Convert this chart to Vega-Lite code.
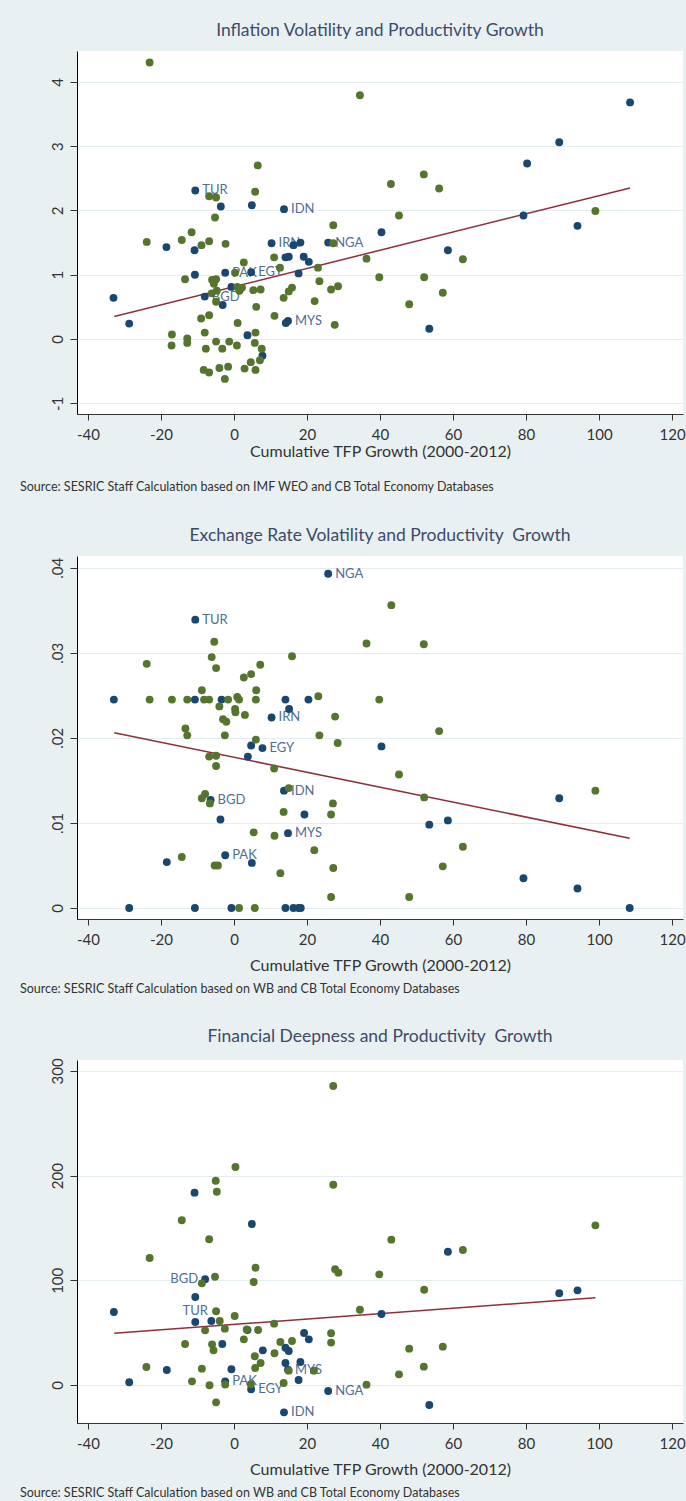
{
"$schema": "https://vega.github.io/schema/vega-lite/v6.json",
"background": "#E9F0F2",
"padding": {"left": 20, "top": 21, "right": 3, "bottom": 4},
"spacing": 32,
"config": {
  "view": {"stroke": null, "fill": "white"},
  "axis": {"labelFont": "Lato", "titleFont": "Lato", "labelColor": "#333333", "titleColor": "#333333", "titleFontWeight": "normal", "domainColor": "#333333", "tickColor": "#333333", "labelFlush": false, "labelOverlap": false},
  "axisX": {"tickSize": 6, "labelPadding": 7, "labelFontSize": 15, "titleFontSize": 16, "grid": false},
  "axisY": {"tickSize": 7, "labelPadding": 5, "labelFontSize": 15, "labelAngle": 270, "labelAlign": "center", "labelBaseline": "bottom", "grid": true, "gridColor": "#E3ECEF", "domainColor": "#000000"},
  "title": {"font": "Lato", "fontSize": 17.5, "fontWeight": "normal", "color": "#3D4B6B", "offset": 12}
},
"datasets": {
  "fit1": [{"tfp": -32.8, "val": 0.35}, {"tfp": 108.5, "val": 2.35}],
  "fit2": [{"tfp": -32.8, "val": 0.0206}, {"tfp": 108.4, "val": 0.0082}],
  "fit3": [{"tfp": -32.8, "val": 49.4}, {"tfp": 99.0, "val": 83.4}],
  "p1": [
    {"tfp": -10.6, "val": 2.31, "grp": "OIC", "code": "TUR"},
    {"tfp": -3.6, "val": 2.06, "grp": "OIC"},
    {"tfp": 4.9, "val": 2.08, "grp": "OIC"},
    {"tfp": 13.7, "val": 2.02, "grp": "OIC", "code": "IDN"},
    {"tfp": -18.5, "val": 1.43, "grp": "OIC"},
    {"tfp": -10.8, "val": 1.38, "grp": "OIC"},
    {"tfp": 10.3, "val": 1.49, "grp": "OIC", "code": "IRN"},
    {"tfp": 16.3, "val": 1.46, "grp": "OIC"},
    {"tfp": 18.2, "val": 1.50, "grp": "OIC"},
    {"tfp": 25.8, "val": 1.50, "grp": "OIC", "code": "NGA"},
    {"tfp": 108.5, "val": 3.68, "grp": "OIC"},
    {"tfp": 89.1, "val": 3.06, "grp": "OIC"},
    {"tfp": 80.3, "val": 2.73, "grp": "OIC"},
    {"tfp": 79.3, "val": 1.92, "grp": "OIC"},
    {"tfp": 94.1, "val": 1.76, "grp": "OIC"},
    {"tfp": 40.4, "val": 1.66, "grp": "OIC"},
    {"tfp": 58.6, "val": 1.38, "grp": "OIC"},
    {"tfp": -33.0, "val": 0.64, "grp": "OIC"},
    {"tfp": -28.7, "val": 0.24, "grp": "OIC"},
    {"tfp": -10.7, "val": 1.00, "grp": "OIC"},
    {"tfp": -2.4, "val": 1.03, "grp": "OIC", "code": "PAK"},
    {"tfp": 4.7, "val": 1.04, "grp": "OIC", "code": "EGY"},
    {"tfp": -0.7, "val": 0.81, "grp": "OIC"},
    {"tfp": -8.0, "val": 0.66, "grp": "OIC", "code": "BGD"},
    {"tfp": -3.1, "val": 0.53, "grp": "OIC"},
    {"tfp": 14.1, "val": 1.27, "grp": "OIC"},
    {"tfp": 15.0, "val": 1.28, "grp": "OIC"},
    {"tfp": 19.1, "val": 1.28, "grp": "OIC"},
    {"tfp": 20.5, "val": 1.20, "grp": "OIC"},
    {"tfp": 17.7, "val": 1.02, "grp": "OIC"},
    {"tfp": 14.2, "val": 0.25, "grp": "OIC"},
    {"tfp": 14.8, "val": 0.28, "grp": "OIC", "code": "MYS"},
    {"tfp": 3.7, "val": 0.06, "grp": "OIC"},
    {"tfp": 7.8, "val": -0.26, "grp": "OIC"},
    {"tfp": 53.5, "val": 0.16, "grp": "OIC"},
    {"tfp": -23.1, "val": 4.30, "grp": "Non-OIC"},
    {"tfp": -6.8, "val": 2.22, "grp": "Non-OIC"},
    {"tfp": -4.9, "val": 2.20, "grp": "Non-OIC"},
    {"tfp": -5.2, "val": 1.89, "grp": "Non-OIC"},
    {"tfp": 6.5, "val": 2.70, "grp": "Non-OIC"},
    {"tfp": 5.8, "val": 2.29, "grp": "Non-OIC"},
    {"tfp": 27.2, "val": 1.77, "grp": "Non-OIC"},
    {"tfp": -23.9, "val": 1.51, "grp": "Non-OIC"},
    {"tfp": -14.3, "val": 1.54, "grp": "Non-OIC"},
    {"tfp": -11.6, "val": 1.66, "grp": "Non-OIC"},
    {"tfp": -8.9, "val": 1.46, "grp": "Non-OIC"},
    {"tfp": -6.8, "val": 1.52, "grp": "Non-OIC"},
    {"tfp": -2.3, "val": 1.48, "grp": "Non-OIC"},
    {"tfp": 27.2, "val": 1.49, "grp": "Non-OIC"},
    {"tfp": 34.5, "val": 3.79, "grp": "Non-OIC"},
    {"tfp": 52.0, "val": 2.56, "grp": "Non-OIC"},
    {"tfp": 43.0, "val": 2.41, "grp": "Non-OIC"},
    {"tfp": 56.2, "val": 2.34, "grp": "Non-OIC"},
    {"tfp": 99.0, "val": 1.99, "grp": "Non-OIC"},
    {"tfp": 45.2, "val": 1.92, "grp": "Non-OIC"},
    {"tfp": -13.4, "val": 0.93, "grp": "Non-OIC"},
    {"tfp": 0.3, "val": 1.03, "grp": "Non-OIC"},
    {"tfp": 2.7, "val": 1.19, "grp": "Non-OIC"},
    {"tfp": -6.0, "val": 0.92, "grp": "Non-OIC"},
    {"tfp": -4.9, "val": 0.93, "grp": "Non-OIC"},
    {"tfp": -5.5, "val": 0.86, "grp": "Non-OIC"},
    {"tfp": 0.9, "val": 0.81, "grp": "Non-OIC"},
    {"tfp": 1.5, "val": 0.75, "grp": "Non-OIC"},
    {"tfp": 2.2, "val": 0.80, "grp": "Non-OIC"},
    {"tfp": -6.1, "val": 0.71, "grp": "Non-OIC"},
    {"tfp": -4.7, "val": 0.75, "grp": "Non-OIC"},
    {"tfp": -4.9, "val": 0.58, "grp": "Non-OIC"},
    {"tfp": 5.3, "val": 0.76, "grp": "Non-OIC"},
    {"tfp": 7.3, "val": 0.77, "grp": "Non-OIC"},
    {"tfp": 6.1, "val": 0.50, "grp": "Non-OIC"},
    {"tfp": -9.0, "val": 0.32, "grp": "Non-OIC"},
    {"tfp": -6.8, "val": 0.37, "grp": "Non-OIC"},
    {"tfp": 1.0, "val": 0.25, "grp": "Non-OIC"},
    {"tfp": 11.0, "val": 1.27, "grp": "Non-OIC"},
    {"tfp": 12.6, "val": 1.11, "grp": "Non-OIC"},
    {"tfp": 23.0, "val": 1.11, "grp": "Non-OIC"},
    {"tfp": 23.4, "val": 0.90, "grp": "Non-OIC"},
    {"tfp": 15.9, "val": 0.80, "grp": "Non-OIC"},
    {"tfp": 15.0, "val": 0.74, "grp": "Non-OIC"},
    {"tfp": 13.6, "val": 0.64, "grp": "Non-OIC"},
    {"tfp": 22.1, "val": 0.59, "grp": "Non-OIC"},
    {"tfp": 26.6, "val": 0.77, "grp": "Non-OIC"},
    {"tfp": 28.5, "val": 0.82, "grp": "Non-OIC"},
    {"tfp": 11.1, "val": 0.36, "grp": "Non-OIC"},
    {"tfp": 27.6, "val": 0.22, "grp": "Non-OIC"},
    {"tfp": -17.0, "val": 0.07, "grp": "Non-OIC"},
    {"tfp": -17.1, "val": -0.10, "grp": "Non-OIC"},
    {"tfp": -12.8, "val": 0.01, "grp": "Non-OIC"},
    {"tfp": -12.8, "val": -0.06, "grp": "Non-OIC"},
    {"tfp": -8.0, "val": 0.10, "grp": "Non-OIC"},
    {"tfp": -7.7, "val": -0.15, "grp": "Non-OIC"},
    {"tfp": -4.9, "val": -0.04, "grp": "Non-OIC"},
    {"tfp": -3.2, "val": -0.15, "grp": "Non-OIC"},
    {"tfp": -1.3, "val": -0.04, "grp": "Non-OIC"},
    {"tfp": 0.8, "val": -0.10, "grp": "Non-OIC"},
    {"tfp": 5.9, "val": 0.10, "grp": "Non-OIC"},
    {"tfp": 5.7, "val": -0.06, "grp": "Non-OIC"},
    {"tfp": 7.6, "val": -0.15, "grp": "Non-OIC"},
    {"tfp": 7.1, "val": -0.33, "grp": "Non-OIC"},
    {"tfp": 4.6, "val": -0.36, "grp": "Non-OIC"},
    {"tfp": 2.9, "val": -0.46, "grp": "Non-OIC"},
    {"tfp": 5.9, "val": -0.48, "grp": "Non-OIC"},
    {"tfp": -8.3, "val": -0.48, "grp": "Non-OIC"},
    {"tfp": -6.8, "val": -0.52, "grp": "Non-OIC"},
    {"tfp": -4.0, "val": -0.45, "grp": "Non-OIC"},
    {"tfp": -1.6, "val": -0.43, "grp": "Non-OIC"},
    {"tfp": -2.5, "val": -0.62, "grp": "Non-OIC"},
    {"tfp": 36.3, "val": 1.25, "grp": "Non-OIC"},
    {"tfp": 62.7, "val": 1.24, "grp": "Non-OIC"},
    {"tfp": 39.8, "val": 0.96, "grp": "Non-OIC"},
    {"tfp": 52.1, "val": 0.96, "grp": "Non-OIC"},
    {"tfp": 57.2, "val": 0.72, "grp": "Non-OIC"},
    {"tfp": 48.0, "val": 0.54, "grp": "Non-OIC"}
  ],
  "p2": [
    {"tfp": 25.8, "val": 0.0393, "grp": "OIC", "code": "NGA"},
    {"tfp": -10.6, "val": 0.0339, "grp": "OIC", "code": "TUR"},
    {"tfp": -32.9, "val": 0.0245, "grp": "OIC"},
    {"tfp": -10.7, "val": 0.0245, "grp": "OIC"},
    {"tfp": -3.4, "val": 0.0245, "grp": "OIC"},
    {"tfp": 14.1, "val": 0.0245, "grp": "OIC"},
    {"tfp": 20.4, "val": 0.0245, "grp": "OIC"},
    {"tfp": 15.1, "val": 0.0234, "grp": "OIC"},
    {"tfp": 10.3, "val": 0.0224, "grp": "OIC", "code": "IRN"},
    {"tfp": 4.7, "val": 0.0191, "grp": "OIC"},
    {"tfp": 7.8, "val": 0.0188, "grp": "OIC", "code": "EGY"},
    {"tfp": 40.4, "val": 0.0190, "grp": "OIC"},
    {"tfp": 3.8, "val": 0.0178, "grp": "OIC"},
    {"tfp": 13.7, "val": 0.0138, "grp": "OIC", "code": "IDN"},
    {"tfp": -6.4, "val": 0.0127, "grp": "OIC", "code": "BGD"},
    {"tfp": 19.3, "val": 0.0110, "grp": "OIC"},
    {"tfp": -3.7, "val": 0.0104, "grp": "OIC"},
    {"tfp": 14.8, "val": 0.0088, "grp": "OIC", "code": "MYS"},
    {"tfp": -2.4, "val": 0.0062, "grp": "OIC", "code": "PAK"},
    {"tfp": -18.4, "val": 0.0054, "grp": "OIC"},
    {"tfp": 4.9, "val": 0.0053, "grp": "OIC"},
    {"tfp": -28.7, "val": 0.0, "grp": "OIC"},
    {"tfp": -10.7, "val": 0.0, "grp": "OIC"},
    {"tfp": -0.7, "val": 0.0, "grp": "OIC"},
    {"tfp": 14.1, "val": 0.0, "grp": "OIC"},
    {"tfp": 16.3, "val": 0.0, "grp": "OIC"},
    {"tfp": 17.7, "val": 0.0, "grp": "OIC"},
    {"tfp": 18.3, "val": 0.0, "grp": "OIC"},
    {"tfp": 53.5, "val": 0.0098, "grp": "OIC"},
    {"tfp": 58.6, "val": 0.0103, "grp": "OIC"},
    {"tfp": 79.3, "val": 0.0035, "grp": "OIC"},
    {"tfp": 94.1, "val": 0.0023, "grp": "OIC"},
    {"tfp": 108.4, "val": 0.0, "grp": "OIC"},
    {"tfp": 89.1, "val": 0.0129, "grp": "OIC"},
    {"tfp": -5.4, "val": 0.0313, "grp": "Non-OIC"},
    {"tfp": -6.1, "val": 0.0295, "grp": "Non-OIC"},
    {"tfp": -4.9, "val": 0.0282, "grp": "Non-OIC"},
    {"tfp": -23.9, "val": 0.0287, "grp": "Non-OIC"},
    {"tfp": 15.9, "val": 0.0296, "grp": "Non-OIC"},
    {"tfp": 7.2, "val": 0.0286, "grp": "Non-OIC"},
    {"tfp": 4.7, "val": 0.0275, "grp": "Non-OIC"},
    {"tfp": 2.7, "val": 0.0271, "grp": "Non-OIC"},
    {"tfp": 6.1, "val": 0.0256, "grp": "Non-OIC"},
    {"tfp": -8.8, "val": 0.0256, "grp": "Non-OIC"},
    {"tfp": -23.1, "val": 0.0245, "grp": "Non-OIC"},
    {"tfp": -17.0, "val": 0.0245, "grp": "Non-OIC"},
    {"tfp": -12.8, "val": 0.0245, "grp": "Non-OIC"},
    {"tfp": -8.2, "val": 0.0245, "grp": "Non-OIC"},
    {"tfp": -6.8, "val": 0.0245, "grp": "Non-OIC"},
    {"tfp": -1.6, "val": 0.0245, "grp": "Non-OIC"},
    {"tfp": 0.9, "val": 0.0248, "grp": "Non-OIC"},
    {"tfp": 1.4, "val": 0.0245, "grp": "Non-OIC"},
    {"tfp": 6.0, "val": 0.0245, "grp": "Non-OIC"},
    {"tfp": 23.1, "val": 0.0249, "grp": "Non-OIC"},
    {"tfp": -4.0, "val": 0.0237, "grp": "Non-OIC"},
    {"tfp": 0.3, "val": 0.0234, "grp": "Non-OIC"},
    {"tfp": 0.4, "val": 0.0230, "grp": "Non-OIC"},
    {"tfp": 3.0, "val": 0.0227, "grp": "Non-OIC"},
    {"tfp": -3.0, "val": 0.0222, "grp": "Non-OIC"},
    {"tfp": -2.1, "val": 0.0219, "grp": "Non-OIC"},
    {"tfp": 27.7, "val": 0.0225, "grp": "Non-OIC"},
    {"tfp": -13.3, "val": 0.0211, "grp": "Non-OIC"},
    {"tfp": -12.8, "val": 0.0203, "grp": "Non-OIC"},
    {"tfp": -2.5, "val": 0.0203, "grp": "Non-OIC"},
    {"tfp": 23.4, "val": 0.0203, "grp": "Non-OIC"},
    {"tfp": 6.0, "val": 0.0198, "grp": "Non-OIC"},
    {"tfp": 28.4, "val": 0.0194, "grp": "Non-OIC"},
    {"tfp": 43.1, "val": 0.0356, "grp": "Non-OIC"},
    {"tfp": 36.3, "val": 0.0311, "grp": "Non-OIC"},
    {"tfp": 52.0, "val": 0.0310, "grp": "Non-OIC"},
    {"tfp": 39.8, "val": 0.0245, "grp": "Non-OIC"},
    {"tfp": 56.2, "val": 0.0208, "grp": "Non-OIC"},
    {"tfp": -6.8, "val": 0.0178, "grp": "Non-OIC"},
    {"tfp": -4.9, "val": 0.0179, "grp": "Non-OIC"},
    {"tfp": -4.9, "val": 0.0167, "grp": "Non-OIC"},
    {"tfp": 11.0, "val": 0.0164, "grp": "Non-OIC"},
    {"tfp": 15.0, "val": 0.0141, "grp": "Non-OIC"},
    {"tfp": -8.8, "val": 0.0129, "grp": "Non-OIC"},
    {"tfp": -7.9, "val": 0.0134, "grp": "Non-OIC"},
    {"tfp": -6.6, "val": 0.0123, "grp": "Non-OIC"},
    {"tfp": 27.1, "val": 0.0123, "grp": "Non-OIC"},
    {"tfp": 13.6, "val": 0.0113, "grp": "Non-OIC"},
    {"tfp": 26.6, "val": 0.0110, "grp": "Non-OIC"},
    {"tfp": 5.4, "val": 0.0089, "grp": "Non-OIC"},
    {"tfp": 11.1, "val": 0.0085, "grp": "Non-OIC"},
    {"tfp": 22.0, "val": 0.0068, "grp": "Non-OIC"},
    {"tfp": -14.3, "val": 0.0060, "grp": "Non-OIC"},
    {"tfp": -5.3, "val": 0.0050, "grp": "Non-OIC"},
    {"tfp": -4.4, "val": 0.0050, "grp": "Non-OIC"},
    {"tfp": 27.2, "val": 0.0047, "grp": "Non-OIC"},
    {"tfp": 12.7, "val": 0.0041, "grp": "Non-OIC"},
    {"tfp": 26.6, "val": 0.0013, "grp": "Non-OIC"},
    {"tfp": 1.4, "val": 0.0, "grp": "Non-OIC"},
    {"tfp": 5.7, "val": 0.0, "grp": "Non-OIC"},
    {"tfp": 45.2, "val": 0.0157, "grp": "Non-OIC"},
    {"tfp": 52.1, "val": 0.0130, "grp": "Non-OIC"},
    {"tfp": 62.7, "val": 0.0072, "grp": "Non-OIC"},
    {"tfp": 57.2, "val": 0.0049, "grp": "Non-OIC"},
    {"tfp": 48.0, "val": 0.0013, "grp": "Non-OIC"},
    {"tfp": 99.0, "val": 0.0138, "grp": "Non-OIC"}
  ],
  "p3": [
    {"tfp": -10.8, "val": 183.7, "grp": "OIC"},
    {"tfp": 4.9, "val": 153.8, "grp": "OIC"},
    {"tfp": 58.6, "val": 127.3, "grp": "OIC"},
    {"tfp": -7.9, "val": 101.0, "grp": "OIC", "code": "BGD"},
    {"tfp": -10.6, "val": 84.0, "grp": "OIC", "code": "TUR"},
    {"tfp": -32.9, "val": 69.7, "grp": "OIC"},
    {"tfp": -10.6, "val": 60.2, "grp": "OIC"},
    {"tfp": -6.2, "val": 61.1, "grp": "OIC"},
    {"tfp": 3.7, "val": 52.5, "grp": "OIC"},
    {"tfp": -3.2, "val": 39.2, "grp": "OIC"},
    {"tfp": 19.2, "val": 49.7, "grp": "OIC"},
    {"tfp": 20.5, "val": 43.6, "grp": "OIC"},
    {"tfp": 14.1, "val": 35.6, "grp": "OIC"},
    {"tfp": 15.0, "val": 32.5, "grp": "OIC"},
    {"tfp": 7.9, "val": 33.1, "grp": "OIC"},
    {"tfp": 14.1, "val": 21.0, "grp": "OIC"},
    {"tfp": 18.2, "val": 22.0, "grp": "OIC"},
    {"tfp": 14.8, "val": 14.5, "grp": "OIC", "code": "MYS"},
    {"tfp": 17.7, "val": 4.8, "grp": "OIC"},
    {"tfp": -18.4, "val": 14.3, "grp": "OIC"},
    {"tfp": -0.7, "val": 15.0, "grp": "OIC"},
    {"tfp": -28.7, "val": 2.6, "grp": "OIC"},
    {"tfp": -2.4, "val": 3.5, "grp": "OIC", "code": "PAK"},
    {"tfp": 4.7, "val": -4.1, "grp": "OIC", "code": "EGY"},
    {"tfp": 25.8, "val": -5.7, "grp": "OIC", "code": "NGA"},
    {"tfp": 13.7, "val": -26.1, "grp": "OIC", "code": "IDN"},
    {"tfp": 89.1, "val": 87.6, "grp": "OIC"},
    {"tfp": 94.1, "val": 90.4, "grp": "OIC"},
    {"tfp": 40.4, "val": 67.8, "grp": "OIC"},
    {"tfp": 53.5, "val": -19.1, "grp": "OIC"},
    {"tfp": 27.2, "val": 285.6, "grp": "Non-OIC"},
    {"tfp": 0.4, "val": 208.2, "grp": "Non-OIC"},
    {"tfp": -5.0, "val": 195.1, "grp": "Non-OIC"},
    {"tfp": -4.7, "val": 184.6, "grp": "Non-OIC"},
    {"tfp": 27.2, "val": 191.3, "grp": "Non-OIC"},
    {"tfp": -14.3, "val": 157.3, "grp": "Non-OIC"},
    {"tfp": -6.8, "val": 139.2, "grp": "Non-OIC"},
    {"tfp": -23.1, "val": 121.3, "grp": "Non-OIC"},
    {"tfp": 99.0, "val": 152.5, "grp": "Non-OIC"},
    {"tfp": 43.1, "val": 138.8, "grp": "Non-OIC"},
    {"tfp": 62.7, "val": 128.9, "grp": "Non-OIC"},
    {"tfp": 5.9, "val": 112.0, "grp": "Non-OIC"},
    {"tfp": 27.7, "val": 110.5, "grp": "Non-OIC"},
    {"tfp": 28.6, "val": 107.3, "grp": "Non-OIC"},
    {"tfp": -8.8, "val": 97.1, "grp": "Non-OIC"},
    {"tfp": -5.2, "val": 103.4, "grp": "Non-OIC"},
    {"tfp": 5.4, "val": 98.4, "grp": "Non-OIC"},
    {"tfp": -4.9, "val": 70.4, "grp": "Non-OIC"},
    {"tfp": 0.2, "val": 65.9, "grp": "Non-OIC"},
    {"tfp": -3.9, "val": 61.1, "grp": "Non-OIC"},
    {"tfp": -7.9, "val": 52.2, "grp": "Non-OIC"},
    {"tfp": -2.5, "val": 53.8, "grp": "Non-OIC"},
    {"tfp": 3.5, "val": 53.0, "grp": "Non-OIC"},
    {"tfp": 6.6, "val": 52.5, "grp": "Non-OIC"},
    {"tfp": 11.0, "val": 58.6, "grp": "Non-OIC"},
    {"tfp": 2.7, "val": 43.6, "grp": "Non-OIC"},
    {"tfp": -13.4, "val": 39.2, "grp": "Non-OIC"},
    {"tfp": -6.0, "val": 38.8, "grp": "Non-OIC"},
    {"tfp": -5.6, "val": 33.1, "grp": "Non-OIC"},
    {"tfp": 26.6, "val": 49.4, "grp": "Non-OIC"},
    {"tfp": 26.6, "val": 40.5, "grp": "Non-OIC"},
    {"tfp": 12.7, "val": 41.1, "grp": "Non-OIC"},
    {"tfp": 15.9, "val": 42.0, "grp": "Non-OIC"},
    {"tfp": 5.7, "val": 27.4, "grp": "Non-OIC"},
    {"tfp": 11.1, "val": 30.3, "grp": "Non-OIC"},
    {"tfp": 7.3, "val": 21.0, "grp": "Non-OIC"},
    {"tfp": 5.8, "val": 16.2, "grp": "Non-OIC"},
    {"tfp": 15.0, "val": 13.7, "grp": "Non-OIC"},
    {"tfp": 21.9, "val": 13.7, "grp": "Non-OIC"},
    {"tfp": -24.0, "val": 17.2, "grp": "Non-OIC"},
    {"tfp": -8.8, "val": 15.6, "grp": "Non-OIC"},
    {"tfp": -11.5, "val": 3.5, "grp": "Non-OIC"},
    {"tfp": -2.4, "val": 0.5, "grp": "Non-OIC"},
    {"tfp": -6.7, "val": -0.3, "grp": "Non-OIC"},
    {"tfp": 4.6, "val": 0.7, "grp": "Non-OIC"},
    {"tfp": 13.6, "val": 1.9, "grp": "Non-OIC"},
    {"tfp": -4.9, "val": -16.6, "grp": "Non-OIC"},
    {"tfp": 39.8, "val": 105.7, "grp": "Non-OIC"},
    {"tfp": 52.1, "val": 91.0, "grp": "Non-OIC"},
    {"tfp": 34.5, "val": 71.9, "grp": "Non-OIC"},
    {"tfp": 48.0, "val": 34.7, "grp": "Non-OIC"},
    {"tfp": 57.2, "val": 36.6, "grp": "Non-OIC"},
    {"tfp": 52.0, "val": 17.5, "grp": "Non-OIC"},
    {"tfp": 45.2, "val": 10.2, "grp": "Non-OIC"},
    {"tfp": 36.3, "val": 0.3, "grp": "Non-OIC"}
  ]
},
"vconcat": [
  {
    "title": {"text": "Source: SESRIC Staff Calculation based on IMF WEO and CB Total Economy Databases", "orient": "bottom", "anchor": "start", "fontSize": 12.5, "color": "#333333", "offset": 22, "dx": -30},
    "vconcat": [{
      "width": 606, "height": 363,
      "title": {"text": "Inflation Volatility and Productivity Growth"},
      "layer": [
        {"mark": {"type": "rule", "color": "#D11A3F", "strokeWidth": 1.5},
         "encoding": {"x": {"datum": 0, "type": "quantitative", "scale": {"domain": [-43, 123], "nice": false, "zero": false}, "axis": {"values": [-40, -20, 0, 20, 40, 60, 80, 100, 120], "labelExpr": "'' + datum.value", "title": "Cumulative TFP Growth (2000-2012)", "titlePadding": 1}}}},
        {"mark": {"type": "rule", "color": "#D11A3F", "strokeWidth": 1.5},
         "encoding": {"y": {"datum": 0, "type": "quantitative", "scale": {"domain": [-1.166, 4.479], "nice": false, "zero": false}, "axis": {"values": [-1, 0, 1, 2, 3, 4], "labelExpr": "'' + datum.value", "title": null}}}},
        {"data": {"name": "fit1"}, "mark": {"type": "line", "color": "#8E2F3A", "strokeWidth": 1.5},
         "encoding": {"x": {"field": "tfp", "type": "quantitative", "scale": {"domain": [-43, 123], "nice": false, "zero": false}, "axis": {"values": [-40, -20, 0, 20, 40, 60, 80, 100, 120], "labelExpr": "'' + datum.value", "title": "Cumulative TFP Growth (2000-2012)", "titlePadding": 1}},
                      "y": {"field": "val", "type": "quantitative", "scale": {"domain": [-1.166, 4.479], "nice": false, "zero": false}, "axis": {"values": [-1, 0, 1, 2, 3, 4], "labelExpr": "'' + datum.value", "title": null}}}},
        {"data": {"name": "p1"}, "transform": [{"filter": "isValid(datum.code)"}],
         "mark": {"type": "text", "align": "left", "baseline": "middle", "dx": 7, "fontSize": 13, "font": "Lato", "color": "#4F6E96"},
         "encoding": {"x": {"field": "tfp", "type": "quantitative", "scale": {"domain": [-43, 123], "nice": false, "zero": false}, "axis": {"values": [-40, -20, 0, 20, 40, 60, 80, 100, 120], "labelExpr": "'' + datum.value", "title": "Cumulative TFP Growth (2000-2012)", "titlePadding": 1}},
                      "y": {"field": "val", "type": "quantitative", "scale": {"domain": [-1.166, 4.479], "nice": false, "zero": false}, "axis": {"values": [-1, 0, 1, 2, 3, 4], "labelExpr": "'' + datum.value", "title": null}},
                      "text": {"field": "code"}}},
        {"data": {"name": "p1"}, "mark": {"type": "circle", "size": 62, "opacity": 1},
         "encoding": {"x": {"field": "tfp", "type": "quantitative", "scale": {"domain": [-43, 123], "nice": false, "zero": false}, "axis": {"values": [-40, -20, 0, 20, 40, 60, 80, 100, 120], "labelExpr": "'' + datum.value", "title": "Cumulative TFP Growth (2000-2012)", "titlePadding": 1}},
                      "y": {"field": "val", "type": "quantitative", "scale": {"domain": [-1.166, 4.479], "nice": false, "zero": false}, "axis": {"values": [-1, 0, 1, 2, 3, 4], "labelExpr": "'' + datum.value", "title": null}},
                      "color": {"field": "grp", "type": "nominal", "scale": {"domain": ["OIC", "Non-OIC"], "range": ["#1A476F", "#55752F"]}, "legend": null}}}
      ]
    }]
  },
  {
    "title": {"text": "Source: SESRIC Staff Calculation based on WB and CB Total Economy Databases", "orient": "bottom", "anchor": "start", "fontSize": 12.5, "color": "#333333", "offset": 10, "dx": -30},
    "vconcat": [{
      "width": 606, "height": 363,
      "title": {"text": "Exchange Rate Volatility and Productivity\u00a0 Growth"},
      "layer": [
        {"mark": {"type": "rule", "color": "#D11A3F", "strokeWidth": 1.5},
         "encoding": {"x": {"datum": 0, "type": "quantitative", "scale": {"domain": [-43, 123], "nice": false, "zero": false}, "axis": {"values": [-40, -20, 0, 20, 40, 60, 80, 100, 120], "labelExpr": "'' + datum.value", "title": "Cumulative TFP Growth (2000-2012)", "titlePadding": 10}}}},
        {"mark": {"type": "rule", "color": "#D11A3F", "strokeWidth": 1.5},
         "encoding": {"y": {"datum": 0, "type": "quantitative", "scale": {"domain": [-0.00129, 0.04138], "nice": false, "zero": false}, "axis": {"values": [0, 0.01, 0.02, 0.03, 0.04], "labelExpr": "datum.value == 0 ? '0' : replace(format(datum.value, '.2f'), '0.', '.')", "title": null}}}},
        {"data": {"name": "fit2"}, "mark": {"type": "line", "color": "#8E2F3A", "strokeWidth": 1.5},
         "encoding": {"x": {"field": "tfp", "type": "quantitative", "scale": {"domain": [-43, 123], "nice": false, "zero": false}, "axis": {"values": [-40, -20, 0, 20, 40, 60, 80, 100, 120], "labelExpr": "'' + datum.value", "title": "Cumulative TFP Growth (2000-2012)", "titlePadding": 10}},
                      "y": {"field": "val", "type": "quantitative", "scale": {"domain": [-0.00129, 0.04138], "nice": false, "zero": false}, "axis": {"values": [0, 0.01, 0.02, 0.03, 0.04], "labelExpr": "datum.value == 0 ? '0' : replace(format(datum.value, '.2f'), '0.', '.')", "title": null}}}},
        {"data": {"name": "p2"}, "transform": [{"filter": "isValid(datum.code)"}],
         "mark": {"type": "text", "align": "left", "baseline": "middle", "dx": 7, "fontSize": 13, "font": "Lato", "color": "#4F6E96"},
         "encoding": {"x": {"field": "tfp", "type": "quantitative", "scale": {"domain": [-43, 123], "nice": false, "zero": false}, "axis": {"values": [-40, -20, 0, 20, 40, 60, 80, 100, 120], "labelExpr": "'' + datum.value", "title": "Cumulative TFP Growth (2000-2012)", "titlePadding": 10}},
                      "y": {"field": "val", "type": "quantitative", "scale": {"domain": [-0.00129, 0.04138], "nice": false, "zero": false}, "axis": {"values": [0, 0.01, 0.02, 0.03, 0.04], "labelExpr": "datum.value == 0 ? '0' : replace(format(datum.value, '.2f'), '0.', '.')", "title": null}},
                      "text": {"field": "code"}}},
        {"data": {"name": "p2"}, "mark": {"type": "circle", "size": 62, "opacity": 1},
         "encoding": {"x": {"field": "tfp", "type": "quantitative", "scale": {"domain": [-43, 123], "nice": false, "zero": false}, "axis": {"values": [-40, -20, 0, 20, 40, 60, 80, 100, 120], "labelExpr": "'' + datum.value", "title": "Cumulative TFP Growth (2000-2012)", "titlePadding": 10}},
                      "y": {"field": "val", "type": "quantitative", "scale": {"domain": [-0.00129, 0.04138], "nice": false, "zero": false}, "axis": {"values": [0, 0.01, 0.02, 0.03, 0.04], "labelExpr": "datum.value == 0 ? '0' : replace(format(datum.value, '.2f'), '0.', '.')", "title": null}},
                      "color": {"field": "grp", "type": "nominal", "scale": {"domain": ["OIC", "Non-OIC"], "range": ["#1A476F", "#55752F"]}, "legend": null}}}
      ]
    }]
  },
  {
    "title": {"text": "Source: SESRIC Staff Calculation based on WB and CB Total Economy Databases", "orient": "bottom", "anchor": "start", "fontSize": 12.5, "color": "#333333", "offset": 10, "dx": -30},
    "vconcat": [{
      "width": 606, "height": 363,
      "title": {"text": "Financial Deepness and Productivity\u00a0 Growth"},
      "layer": [
        {"mark": {"type": "rule", "color": "#D11A3F", "strokeWidth": 1.5},
         "encoding": {"x": {"datum": 0, "type": "quantitative", "scale": {"domain": [-43, 123], "nice": false, "zero": false}, "axis": {"values": [-40, -20, 0, 20, 40, 60, 80, 100, 120], "labelExpr": "'' + datum.value", "title": "Cumulative TFP Growth (2000-2012)", "titlePadding": 10}}}},
        {"mark": {"type": "rule", "color": "#D11A3F", "strokeWidth": 1.5},
         "encoding": {"y": {"datum": 0, "type": "quantitative", "scale": {"domain": [-36.3, 310.4], "nice": false, "zero": false}, "axis": {"values": [0, 100, 200, 300], "labelExpr": "'' + datum.value", "title": null}}}},
        {"data": {"name": "fit3"}, "mark": {"type": "line", "color": "#8E2F3A", "strokeWidth": 1.5},
         "encoding": {"x": {"field": "tfp", "type": "quantitative", "scale": {"domain": [-43, 123], "nice": false, "zero": false}, "axis": {"values": [-40, -20, 0, 20, 40, 60, 80, 100, 120], "labelExpr": "'' + datum.value", "title": "Cumulative TFP Growth (2000-2012)", "titlePadding": 10}},
                      "y": {"field": "val", "type": "quantitative", "scale": {"domain": [-36.3, 310.4], "nice": false, "zero": false}, "axis": {"values": [0, 100, 200, 300], "labelExpr": "'' + datum.value", "title": null}}}},
        {"data": {"name": "p3"}, "transform": [{"filter": "isValid(datum.code) && datum.code != 'BGD' && datum.code != 'TUR'"}],
         "mark": {"type": "text", "align": "left", "baseline": "middle", "dx": 7, "fontSize": 13, "font": "Lato", "color": "#4F6E96"},
         "encoding": {"x": {"field": "tfp", "type": "quantitative", "scale": {"domain": [-43, 123], "nice": false, "zero": false}, "axis": {"values": [-40, -20, 0, 20, 40, 60, 80, 100, 120], "labelExpr": "'' + datum.value", "title": "Cumulative TFP Growth (2000-2012)", "titlePadding": 10}},
                      "y": {"field": "val", "type": "quantitative", "scale": {"domain": [-36.3, 310.4], "nice": false, "zero": false}, "axis": {"values": [0, 100, 200, 300], "labelExpr": "'' + datum.value", "title": null}},
                      "text": {"field": "code"}}},
        {"data": {"name": "p3"}, "transform": [{"filter": "datum.code == 'BGD'"}],
         "mark": {"type": "text", "align": "right", "baseline": "middle", "dx": -7, "fontSize": 13, "font": "Lato", "color": "#4F6E96"},
         "encoding": {"x": {"field": "tfp", "type": "quantitative", "scale": {"domain": [-43, 123], "nice": false, "zero": false}, "axis": {"values": [-40, -20, 0, 20, 40, 60, 80, 100, 120], "labelExpr": "'' + datum.value", "title": "Cumulative TFP Growth (2000-2012)", "titlePadding": 10}},
                      "y": {"field": "val", "type": "quantitative", "scale": {"domain": [-36.3, 310.4], "nice": false, "zero": false}, "axis": {"values": [0, 100, 200, 300], "labelExpr": "'' + datum.value", "title": null}},
                      "text": {"field": "code"}}},
        {"data": {"name": "p3"}, "transform": [{"filter": "datum.code == 'TUR'"}],
         "mark": {"type": "text", "align": "center", "baseline": "middle", "dy": 14, "fontSize": 13, "font": "Lato", "color": "#4F6E96"},
         "encoding": {"x": {"field": "tfp", "type": "quantitative", "scale": {"domain": [-43, 123], "nice": false, "zero": false}, "axis": {"values": [-40, -20, 0, 20, 40, 60, 80, 100, 120], "labelExpr": "'' + datum.value", "title": "Cumulative TFP Growth (2000-2012)", "titlePadding": 10}},
                      "y": {"field": "val", "type": "quantitative", "scale": {"domain": [-36.3, 310.4], "nice": false, "zero": false}, "axis": {"values": [0, 100, 200, 300], "labelExpr": "'' + datum.value", "title": null}},
                      "text": {"field": "code"}}},
        {"data": {"name": "p3"}, "mark": {"type": "circle", "size": 62, "opacity": 1},
         "encoding": {"x": {"field": "tfp", "type": "quantitative", "scale": {"domain": [-43, 123], "nice": false, "zero": false}, "axis": {"values": [-40, -20, 0, 20, 40, 60, 80, 100, 120], "labelExpr": "'' + datum.value", "title": "Cumulative TFP Growth (2000-2012)", "titlePadding": 10}},
                      "y": {"field": "val", "type": "quantitative", "scale": {"domain": [-36.3, 310.4], "nice": false, "zero": false}, "axis": {"values": [0, 100, 200, 300], "labelExpr": "'' + datum.value", "title": null}},
                      "color": {"field": "grp", "type": "nominal", "scale": {"domain": ["OIC", "Non-OIC"], "range": ["#1A476F", "#55752F"]}, "legend": null}}}
      ]
    }]
  }
]
}
